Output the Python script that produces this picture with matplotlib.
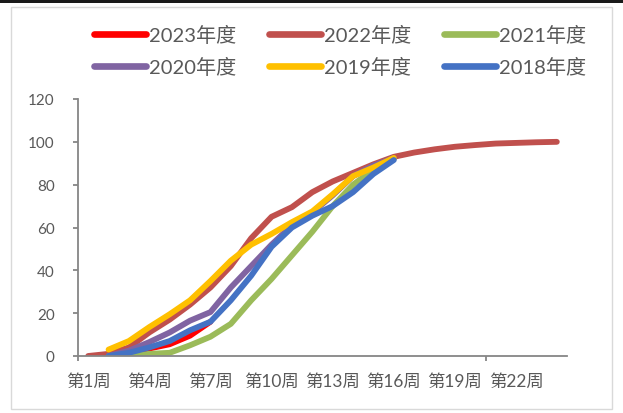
import numpy as np
import matplotlib
matplotlib.use("Agg")
import matplotlib.pyplot as plt
from matplotlib.patches import Rectangle
from matplotlib.ticker import FixedLocator, NullFormatter

plt.rcParams['font.family'] = ['Lato', 'Noto Sans CJK SC', 'DejaVu Sans']

weeks = np.arange(1, 25)
week_labels = [f"第{w}周" for w in weeks]
label_weeks = [1, 4, 7, 10, 13, 16, 19, 22]

nan = np.nan
y2023 = [nan, 0, 1.5, 3.5, 5.5, 9.5, 16]
y2022 = [0, 1, 4, 11, 17, 24, 32, 42, 55, 65, 69.5, 76.5, 81.5, 85.5, 89.5, 93,
         95, 96.5, 97.7, 98.5, 99.2, 99.5, 99.8, 100]
y2021 = [nan, 0, 0, 1, 1.5, 5, 9, 15, 26, 36, 47, 58, 70, 80, 87, 92]
y2020 = [nan, 0, 2.5, 6.5, 11, 16.5, 20.5, 32, 42, 52, 61, 67, 75, 84, 89, 92.5]
y2019 = [nan, 3, 7, 13.5, 19.5, 26, 35, 44.5, 52, 57, 62.5, 67.5, 75.5, 84, 88, 92.5]
y2018 = [nan, 0, 1.5, 4, 7, 12, 16, 26, 37.5, 51, 60, 65.5, 70, 76.5, 85, 91.5]

series = [
    ("2023年度", y2023, "#FF0000"),
    ("2022年度", y2022, "#C0504D"),
    ("2021年度", y2021, "#9BBB59"),
    ("2020年度", y2020, "#8064A2"),
    ("2019年度", y2019, "#FFC000"),
    ("2018年度", y2018, "#4472C4"),
]

W, H = 623, 414
fig = plt.figure(figsize=(W / 100, H / 100), dpi=100)
fig.patch.set_facecolor("white")

# outer chart frame and dark strip along the top edge
fig.patches.append(Rectangle((11 / W, 4 / H), (612 - 11) / W, (410 - 8) / H,
                             transform=fig.transFigure, fill=False,
                             edgecolor="#D9D9D9", lw=1.0))
fig.patches.append(Rectangle((0, 1 - 4 / H), 1, 4 / H, transform=fig.transFigure,
                             facecolor="#1A1A1A", edgecolor="none"))

ax = fig.add_axes([78 / W, 1 - 357 / H, 489 / W, 257 / H])
axis_col = "#868686"
text_col = "#595959"

handles = {}
for name, vals, col in series:
    x = weeks[:len(vals)]
    ln, = ax.plot(x, vals, color=col, lw=4.2, solid_capstyle="round",
                  solid_joinstyle="round", label=name)
    handles[name] = ln

ax.set_xlim(0.5, 24.5)
ax.set_ylim(0, 120)
ax.set_yticks(np.arange(0, 121, 20))

ax.xaxis.set_major_locator(FixedLocator([0.5, 20.5]))
ax.xaxis.set_major_formatter(NullFormatter())
ax.xaxis.set_minor_locator(FixedLocator(label_weeks))
ax.set_xticklabels([week_labels[w - 1] for w in label_weeks], minor=True)
ax.tick_params(axis="x", which="minor", length=0, pad=12, labelsize=12.5,
               labelcolor=text_col)
ax.tick_params(axis="x", which="major", length=3.8, width=1.3, color=axis_col,
               direction="out")
ax.tick_params(axis="y", length=3.8, width=1.3, color=axis_col, direction="out",
               labelsize=11, labelcolor=text_col, pad=13)

for s in ["top", "right"]:
    ax.spines[s].set_visible(False)
for s in ["left", "bottom"]:
    ax.spines[s].set_color(axis_col)
    ax.spines[s].set_linewidth(1.3)

# legend filled row by row: three columns, two rows
order = ["2023年度", "2020年度", "2022年度", "2019年度", "2021年度", "2018年度"]
leg = fig.legend(handles=[handles[k] for k in order], ncol=3, loc="upper left",
                 bbox_to_anchor=(86 / W, 1 - 18 / H), frameon=False,
                 fontsize=14.5, handlelength=2.6, handletextpad=0.15,
                 columnspacing=1.6, labelspacing=0.62, borderaxespad=0)
for t in leg.get_texts():
    t.set_color(text_col)
for lh in leg.get_lines():
    lh.set_linewidth(4.8)
    lh.set_solid_capstyle("round")

fig.savefig("out.png", dpi=100, facecolor="white")
